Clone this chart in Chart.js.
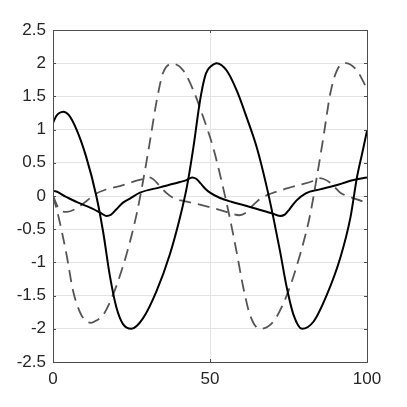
<!DOCTYPE html>
<html>
<head>
<meta charset="utf-8">
<script src="https://cdn.jsdelivr.net/npm/chart.js@4"></script>
<style>
  html, body { margin: 0; padding: 0; background: #fff; }
  #wrap { width: 407px; height: 407px; }
</style>
</head>
<body>
<div id="wrap"><canvas id="chart" width="407" height="407"></canvas></div>
<script>
// values
const xTicks = [0, 50, 100];
const yTicks = [-2.5, -2, -1.5, -1, -0.5, 0, 0.5, 1, 1.5, 2, 2.5];

// solid, large swing
const s1X = [0, 1, 2, 3.3, 5, 7.5, 10.5, 13.8, 16, 18.1, 20.2, 22.3, 25, 28.7, 33, 37.2, 40.4, 42.6, 44.7, 46.8, 48.4, 49.3, 50.2, 52.1, 55.3, 58.5, 61.7, 64.9, 68.1, 70.2, 72.3, 74.5, 76.6, 79.3, 83, 87.2, 91.5, 94.7, 96.8, 98.4, 100];
const s1Y = [1.1, 1.2, 1.25, 1.27, 1.22, 1.0, 0.6, 0.0, -0.55, -1.2, -1.68, -1.93, -2.0, -1.84, -1.43, -0.88, -0.33, 0.13, 0.73, 1.43, 1.8, 1.9, 1.95, 2.0, 1.89, 1.59, 1.18, 0.73, 0.13, -0.33, -0.83, -1.39, -1.79, -2.0, -1.89, -1.49, -0.93, -0.33, 0.28, 0.63, 0.98];

// solid, small swing
const s2X = [0, 0.03, 0.3, 4, 8, 12, 15, 17, 18.5, 20.2, 22.3, 24.5, 27.7, 34, 40.4, 42.5, 44.3, 45.6, 47, 48.5, 50, 53.2, 57, 61.7, 66, 69.7, 72.3, 73.8, 75.3, 77.5, 80.5, 85, 89.3, 95.7, 100];
const s2Y = [1.1, 0.08, 0.074, -0.01, -0.1, -0.18, -0.25, -0.3, -0.28, -0.2, -0.1, -0.04, 0.05, 0.13, 0.21, 0.24, 0.28, 0.26, 0.19, 0.11, 0.05, -0.03, -0.09, -0.15, -0.21, -0.26, -0.3, -0.28, -0.2, -0.07, 0.04, 0.1, 0.15, 0.24, 0.28];

// dashed, large swing
const d1X = [0, 1.6, 4.3, 6.4, 8.5, 10.2, 12.2, 14, 16, 19.1, 23.4, 26.6, 28.7, 30.9, 33, 35.1, 38.3, 41.5, 44.7, 47.9, 51, 54.3, 56.4, 58.5, 60.7, 62.8, 65.8, 70.2, 74.5, 78.7, 81.9, 84, 86.1, 88.3, 90.4, 93.1, 96.8, 100];
const d1Y = [0, -0.28, -0.88, -1.43, -1.74, -1.87, -1.91, -1.87, -1.79, -1.49, -0.88, -0.28, 0.23, 0.83, 1.43, 1.86, 1.99, 1.89, 1.59, 1.18, 0.73, 0.1, -0.35, -0.85, -1.4, -1.8, -2.0, -1.89, -1.49, -0.88, -0.28, 0.28, 0.88, 1.54, 1.89, 2.0, 1.89, 1.61];

// dashed, small swing
const d2X = [0, 2, 4.5, 7, 10.7, 13.3, 17, 21.3, 26.6, 29, 30.6, 32, 34, 36, 38.3, 41.5, 46.8, 51.7, 56, 59.3, 61.5, 63.5, 65.5, 68, 73.5, 78.7, 83, 84.6, 86, 88.3, 91.5, 95.2, 100];
const d2Y = [0, -0.2, -0.24, -0.2, -0.075, 0.025, 0.1, 0.15, 0.23, 0.26, 0.28, 0.25, 0.15, 0.05, -0.03, -0.075, -0.13, -0.19, -0.25, -0.29, -0.25, -0.15, -0.06, 0.01, 0.1, 0.17, 0.23, 0.27, 0.26, 0.2, 0.05, -0.025, -0.1];

function pts(xs, ys) {
    return xs.map((x, i) => ({ x: x, y: ys[i] }));
}

const axisColor = '#4d4d4d';
const labelFont = { family: "'Liberation Sans', Arial, Helvetica, sans-serif", size: 17 };

// box round the plot and short inward ticks, as in the reference
const boxPlugin = {
    id: 'box',
    afterDraw(chart) {
        const c = chart.ctx;
        const a = chart.chartArea;
        const xs = chart.scales.x;
        const ys = chart.scales.y;
        const len = 3;
        c.save();
        c.strokeStyle = axisColor;
        c.lineWidth = 1;
        c.beginPath();
        yTicks.forEach(v => {
            const p = Math.round(ys.getPixelForValue(v)) + 0.5;
            c.moveTo(a.left, p); c.lineTo(a.left + len, p);
            c.moveTo(a.right, p); c.lineTo(a.right - len, p);
        });
        xTicks.forEach(v => {
            const p = Math.round(xs.getPixelForValue(v)) + 0.5;
            c.moveTo(p, a.bottom); c.lineTo(p, a.bottom - len);
            c.moveTo(p, a.top); c.lineTo(p, a.top + len);
        });
        c.stroke();
        c.strokeRect(Math.round(a.left) + 0.5, Math.round(a.top) + 0.5,
            Math.round(a.right - a.left), Math.round(a.bottom - a.top));
        c.restore();
    }
};

const ctx = document.getElementById('chart').getContext('2d');
new Chart(ctx, {
    type: 'line',
    data: {
        datasets: [
            { data: pts(s1X, s1Y), borderColor: '#000', borderWidth: 2 },
            { data: pts(s2X, s2Y), borderColor: '#000', borderWidth: 2 },
            { data: pts(d1X, d1Y), borderColor: '#555', borderWidth: 1.8, borderDash: [12, 7] },
            { data: pts(d2X, d2Y), borderColor: '#555', borderWidth: 1.8, borderDash: [12, 7] }
        ]
    },
    options: {
        responsive: false,
        animation: false,
        events: [],
        layout: { padding: { top: 30, right: 40, left: 0, bottom: 0 } },
        elements: {
            point: { radius: 0 },
            line: { cubicInterpolationMode: 'monotone', fill: false }
        },
        plugins: { legend: { display: false }, tooltip: { enabled: false } },
        scales: {
            x: {
                type: 'linear',
                min: 0,
                max: 100,
                afterBuildTicks: s => { s.ticks = xTicks.map(v => ({ value: v })); },
                afterFit: s => { s.height = 45; },
                border: { display: false },
                grid: { color: '#e3e3e3', drawTicks: false },
                ticks: { color: '#262626', font: labelFont, padding: 7, maxRotation: 0, callback: v => String(v) }
            },
            y: {
                type: 'linear',
                min: -2.5,
                max: 2.5,
                afterBuildTicks: s => { s.ticks = yTicks.map(v => ({ value: v })); },
                afterFit: s => { s.width = 53; },
                border: { display: false },
                grid: { color: '#e3e3e3', drawTicks: false },
                ticks: { color: '#262626', font: labelFont, padding: 7, callback: v => String(v) }
            }
        }
    },
    plugins: [boxPlugin]
});
</script>
</body>
</html>
